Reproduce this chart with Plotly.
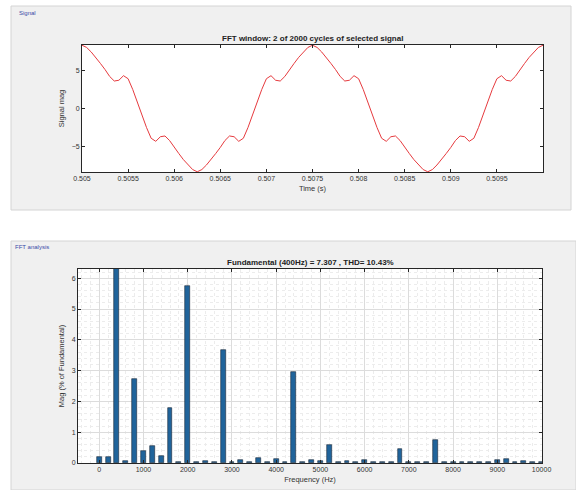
import plotly.graph_objects as go

# ---------------- data ----------------
# time axis of the signal window (s), 0.05 ms steps over two cycles
t_start = 0.505
t_step = 0.00005
signal_values = [
    8.29, 8.0, 7.4, 6.7, 5.9, 5.1, 4.2, 3.6, 3.7, 4.3, 3.9, 2.5, 0.8,
    -0.8, -2.5, -3.9, -4.3, -3.7, -3.6, -4.2, -5.1, -5.9, -6.7, -7.4, -8.0, -8.29,
    -8.0, -7.4, -6.7, -5.9, -5.1, -4.2, -3.6, -3.7, -4.3, -3.9, -2.5, -0.8,
    0.8, 2.5, 3.9, 4.3, 3.7, 3.6, 4.2, 5.1, 5.9, 6.7, 7.4, 8.0, 8.29,
    8.0, 7.4, 6.7, 5.9, 5.1, 4.2, 3.6, 3.7, 4.3, 3.9, 2.5, 0.8,
    -0.8, -2.5, -3.9, -4.3, -3.7, -3.6, -4.2, -5.1, -5.9, -6.7, -7.4, -8.0, -8.29,
    -8.0, -7.4, -6.7, -5.9, -5.1, -4.2, -3.6, -3.7, -4.3, -3.9, -2.5, -0.8,
    0.8, 2.5, 3.9, 4.3, 3.7, 3.6, 4.2, 5.1, 5.9, 6.7, 7.4, 8.0, 8.29,
]
time_values = [t_start + i * t_step for i in range(len(signal_values))]

time_tick_vals = [0.505, 0.5055, 0.506, 0.5065, 0.507, 0.5075, 0.508, 0.5085, 0.509, 0.5095]
time_tick_text = ["0.505", "0.5055", "0.506", "0.5065", "0.507", "0.5075", "0.508", "0.5085", "0.509", "0.5095"]
signal_tick_vals = [-5, 0, 5]

# FFT spectrum, 200 Hz bins
freqs = [i * 200 for i in range(51)]
mags = [
    0.19, 0.18, 100.0, 0.08, 2.73, 0.38, 0.55, 0.24, 1.78, 0.03,
    5.74, 0.04, 0.07, 0.04, 3.68, 0.03, 0.09, 0.03, 0.15, 0.03,
    0.13, 0.03, 2.97, 0.03, 0.09, 0.06, 0.58, 0.03, 0.08, 0.03,
    0.10, 0.03, 0.04, 0.02, 0.45, 0.03, 0.04, 0.03, 0.75, 0.02,
    0.03, 0.02, 0.04, 0.03, 0.03, 0.09, 0.13, 0.03, 0.05, 0.02, 0.02,
]
freq_tick_vals = [0, 1000, 2000, 3000, 4000, 5000, 6000, 7000, 8000, 9000, 10000]
freq_tick_text = ["0", "1000", "2000", "3000", "4000", "5000", "6000", "7000", "8000", "9000", "10000"]
mag_tick_vals = [0, 1, 2, 3, 4, 5, 6]

title_top = "FFT window: 2 of 2000 cycles of selected signal"
title_bottom = "Fundamental (400Hz) = 7.307 , THD= 10.43%"

# ---------------- figure ----------------
W, H = 576, 490
FONT = "Liberation Sans, Arial, sans-serif"


def px(x):
    return x / W


def py(y):
    return 1 - y / H


fig = go.Figure()

fig.add_trace(go.Scatter(
    x=time_values, y=signal_values, mode="lines",
    line=dict(color="#e63a3e", width=1.0),
    xaxis="x", yaxis="y", showlegend=False, hoverinfo="skip",
))

fig.add_trace(go.Bar(
    x=freqs, y=mags, width=110,
    marker=dict(color="#20649b", line=dict(color="#1b2838", width=0.6)),
    xaxis="x2", yaxis="y2", showlegend=False, hoverinfo="skip",
))

axis_common = dict(
    showline=True, linecolor="#262626", linewidth=0.8, mirror="ticks",
    ticks="inside", ticklen=3, tickcolor="#262626", tickwidth=0.7,
    tickfont=dict(family=FONT, size=7, color="#333333"),
    zeroline=False, automargin=False,
)

fig.update_layout(
    width=W, height=H,
    margin=dict(l=0, r=0, t=0, b=0),
    paper_bgcolor="white",
    plot_bgcolor="white",
    font=dict(family=FONT, color="#222222"),
    bargap=0,
    xaxis=dict(
        domain=[px(82), px(543)], anchor="y", range=[0.505, 0.51],
        tickvals=time_tick_vals, ticktext=time_tick_text, showgrid=False,
        title=dict(text="Time (s)", font=dict(family=FONT, size=7.5, color="#333333"), standoff=4),
        **axis_common,
    ),
    yaxis=dict(
        domain=[py(172), py(45)], anchor="x", range=[-8.32, 8.32],
        tickvals=signal_tick_vals, showgrid=False,
        title=dict(text="Signal mag", font=dict(family=FONT, size=7.5, color="#333333"), standoff=6),
        **axis_common,
    ),
    xaxis2=dict(
        domain=[px(78), px(542)], anchor="y2", range=[-480, 10010],
        tickvals=freq_tick_vals, ticktext=freq_tick_text,
        showgrid=True, gridcolor="#dcdcdc", gridwidth=0.6,
        minor=dict(dtick=200, showgrid=True, gridcolor="#ececec", griddash="dot", gridwidth=0.6),
        title=dict(text="Frequency (Hz)", font=dict(family=FONT, size=7.5, color="#333333"), standoff=4),
        **axis_common,
    ),
    yaxis2=dict(
        domain=[py(463), py(269)], anchor="x2", range=[0, 6.3],
        tickvals=mag_tick_vals, showgrid=True, gridcolor="#dcdcdc", gridwidth=0.6,
        minor=dict(dtick=0.2, showgrid=True, gridcolor="#ececec", griddash="dot", gridwidth=0.6),
        title=dict(text="Mag (% of Fundamental)", font=dict(family=FONT, size=7.5, color="#333333"), standoff=6),
        **axis_common,
    ),
    shapes=[
        dict(type="rect", xref="paper", yref="paper", x0=px(11), x1=px(571), y0=py(210), y1=py(6),
             fillcolor="#f0f0f0", line=dict(color="#d4d4d4", width=1), layer="below"),
        dict(type="rect", xref="paper", yref="paper", x0=px(11), x1=px(576), y0=py(490), y1=py(241),
             fillcolor="#f0f0f0", line=dict(color="#d4d4d4", width=1), layer="below"),
        dict(type="rect", xref="x domain", yref="y domain", x0=0, x1=1, y0=0, y1=1,
             fillcolor="white", line=dict(width=0), layer="below"),
        dict(type="rect", xref="x2 domain", yref="y2 domain", x0=0, x1=1, y0=0, y1=1,
             fillcolor="white", line=dict(width=0), layer="below"),
    ],
    annotations=[
        dict(text="Signal", x=px(17), y=py(13), xref="paper", yref="paper", showarrow=False,
             xanchor="left", yanchor="middle", font=dict(family=FONT, size=6, color="#3a4aa8")),
        dict(text="FFT analysis", x=px(13), y=py(247), xref="paper", yref="paper", showarrow=False,
             xanchor="left", yanchor="middle", font=dict(family=FONT, size=6, color="#3a4aa8")),
        dict(text="<b>" + title_top + "</b>", x=px(312), y=py(38), xref="paper", yref="paper",
             showarrow=False, xanchor="center", yanchor="middle",
             font=dict(family=FONT, size=8, color="#222222")),
        dict(text="<b>" + title_bottom + "</b>", x=px(310), y=py(262), xref="paper", yref="paper",
             showarrow=False, xanchor="center", yanchor="middle",
             font=dict(family=FONT, size=8, color="#222222")),
    ],
)

fig.write_html(
    "out.html",
    config={"displayModeBar": False},
    post_script="document.body.style.margin='0';document.body.style.overflow='hidden';",
)
